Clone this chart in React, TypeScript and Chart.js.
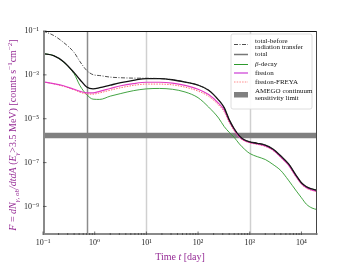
import React, { useEffect, useRef } from "react";
import { Chart, registerables } from "chart.js";
Chart.register(...registerables);

// ---- data (time in days, flux in counts s^-1 cm^-2) ----
const T_DAYS = [0.1, 0.16, 0.25, 0.4, 0.52, 0.7, 0.93, 1.25, 2, 3.2, 5.6, 10, 18, 32, 56, 100, 160, 250, 320, 400, 500, 630, 800, 1000, 1400, 2000, 2800, 4000, 5600, 8000, 10000, 12500, 16000, 20000];

const F_BEFORE = [1.0e-1, 6.3e-2, 3.0e-2, 1.05e-2, 4.0e-3, 1.6e-3, 1.02e-3, 9.3e-4, 7.9e-4, 7.4e-4, 7.1e-4, 7.0e-4, 6.8e-4, 6.0e-4, 4.7e-4, 3.4e-4, 2.0e-4, 7.1e-5, 3.2e-5, 9.1e-6, 3.5e-6, 1.66e-6, 1.07e-6, 8.9e-7, 7.6e-7, 6.3e-7, 4.2e-7, 2.0e-7, 8.9e-8, 2.5e-8, 1.2e-8, 7.9e-9, 6.3e-9, 5.4e-9];
const F_TOTAL = [9.3e-3, 7.6e-3, 4.0e-3, 1.26e-3, 6.0e-4, 2.8e-4, 2.3e-4, 2.6e-4, 3.4e-4, 4.4e-4, 5.6e-4, 6.8e-4, 6.8e-4, 6.0e-4, 4.7e-4, 3.4e-4, 2.0e-4, 7.1e-5, 3.2e-5, 9.1e-6, 3.5e-6, 1.66e-6, 1.07e-6, 8.9e-7, 7.6e-7, 6.3e-7, 4.2e-7, 2.0e-7, 8.9e-8, 2.5e-8, 1.2e-8, 7.9e-9, 6.3e-9, 5.4e-9];
const F_BETA = [9.3e-3, 7.6e-3, 3.8e-3, 1.12e-3, 3.2e-4, 1.26e-4, 7.8e-5, 7.6e-5, 1.07e-4, 1.41e-4, 1.9e-4, 2.3e-4, 2.4e-4, 2.2e-4, 1.66e-4, 9.1e-5, 3.4e-5, 1.07e-5, 4.4e-6, 2.4e-6, 1.41e-6, 7.1e-7, 4.0e-7, 2.6e-7, 1.86e-7, 1.38e-7, 8.3e-8, 4.3e-8, 1.58e-8, 5.0e-9, 2.5e-9, 1.26e-9, 8.5e-10, 7.2e-10];
const F_FISSION = [4.8e-4, 4.0e-4, 3.2e-4, 2.2e-4, 1.78e-4, 1.51e-4, 1.51e-4, 1.78e-4, 2.4e-4, 3.2e-4, 4.0e-4, 4.6e-4, 4.6e-4, 4.2e-4, 3.3e-4, 2.2e-4, 1.26e-4, 5.0e-5, 2.5e-5, 7.9e-6, 3.2e-6, 1.48e-6, 1.0e-6, 8.3e-7, 7.1e-7, 5.8e-7, 3.8e-7, 1.78e-7, 7.9e-8, 2.2e-8, 1.1e-8, 7.1e-9, 5.6e-9, 5.0e-9];
const F_FREYA = [4.8e-4, 3.9e-4, 3.0e-4, 2.1e-4, 1.62e-4, 1.35e-4, 1.32e-4, 1.51e-4, 2.0e-4, 2.6e-4, 3.3e-4, 3.8e-4, 3.8e-4, 3.5e-4, 2.75e-4, 1.82e-4, 1.05e-4, 4.2e-5, 2.1e-5, 6.9e-6, 2.8e-6, 1.38e-6, 9.5e-7, 7.9e-7, 6.8e-7, 5.5e-7, 3.6e-7, 1.7e-7, 7.6e-8, 2.1e-8, 1.05e-8, 6.8e-9, 5.4e-9, 4.8e-9];

const T_AMEGO = [0.1, 20000];
const F_AMEGO = [1.7e-6, 1.7e-6];

const V_LINES = [0.7, 10, 1000];
const X_MIN = 0.1;
const X_MAX = 20000;
const Y_MIN = 5e-11;
const Y_MAX = 0.1;
const X_MAJOR_EXP = [-1, 0, 1, 2, 3, 4];
const Y_MAJOR_EXP = [-1, -3, -5, -7, -9];
const MINOR_MULT = [2, 3, 4, 5, 6, 7, 8, 9];

const FONT = "'Liberation Serif', 'DejaVu Serif', serif";
const PURPLE = "#952a95";

const SUP: Record<string, string> = { "-": "\u207B", "0": "\u2070", "1": "\u00B9", "2": "\u00B2", "3": "\u00B3", "4": "\u2074", "5": "\u2075", "6": "\u2076", "7": "\u2077", "8": "\u2078", "9": "\u2079" };
const pow10Label = (e: number) => "10" + String(e).split("").map((c) => SUP[c]).join("");
const isPow10 = (v: number) => Math.abs(Math.log10(v) - Math.round(Math.log10(v))) < 1e-9;

const pts = (xs: number[], ys: number[]) => xs.map((x, i) => ({ x, y: ys[i] }));

type Seg = { t: string; it?: boolean; sub?: boolean; sup?: boolean };

function drawRich(ctx: CanvasRenderingContext2D, segs: Seg[], size: number, cx: number, baseY: number, color: string) {
  const fontFor = (s: Seg) => `${s.it ? "italic " : ""}${s.sub || s.sup ? size * 0.7 : size}px ${FONT}`;
  let w = 0;
  segs.forEach((s) => { ctx.font = fontFor(s); w += ctx.measureText(s.t).width; });
  let x = cx - w / 2;
  ctx.fillStyle = color;
  ctx.textBaseline = "alphabetic";
  ctx.textAlign = "left";
  segs.forEach((s) => {
    ctx.font = fontFor(s);
    const dy = s.sub ? size * 0.28 : s.sup ? -size * 0.4 : 0;
    ctx.fillText(s.t, x, baseY + dy);
    x += ctx.measureText(s.t).width;
  });
}

const Y_TITLE: Seg[] = [
  { t: "F", it: true }, { t: " = " }, { t: "dN", it: true }, { t: "\u03B3, ob", it: true, sub: true },
  { t: "/dtdA", it: true }, { t: " (" }, { t: "E", it: true }, { t: "\u03B3", it: true, sub: true },
  { t: ">3.5 MeV) [counts s" }, { t: "\u22121", sup: true }, { t: "cm" }, { t: "\u22122", sup: true }, { t: "]" },
];
const X_TITLE: Seg[] = [{ t: "Time " }, { t: "t", it: true }, { t: " [day]" }];

const decorPlugin = {
  id: "decor",
  beforeDatasetsDraw(chart: any) {
    const { ctx, chartArea: a, scales } = chart;
    const x = scales.x;
    ctx.save();
    V_LINES.forEach((t, i) => {
      const px = Math.round(x.getPixelForValue(t)) + 0.5;
      ctx.strokeStyle = i === 0 ? "#8c8c8c" : "#d0d0d0";
      ctx.lineWidth = 1.5;
      ctx.beginPath();
      ctx.moveTo(px, a.top);
      ctx.lineTo(px, a.bottom);
      ctx.stroke();
    });
    ctx.restore();
  },
  afterDatasetsDraw(chart: any) {
    const { ctx, chartArea: a, scales } = chart;
    const x = scales.x;
    const y = scales.y;
    ctx.save();
    // frame
    ctx.lineWidth = 1;
    ctx.strokeStyle = "#111";
    ctx.beginPath(); ctx.moveTo(a.left, a.top + 0.5); ctx.lineTo(a.right, a.top + 0.5); ctx.stroke();
    ctx.strokeStyle = "#444";
    ctx.beginPath(); ctx.moveTo(a.right - 0.5, a.top); ctx.lineTo(a.right - 0.5, a.bottom); ctx.stroke();
    ctx.strokeStyle = "#8a8a8a";
    ctx.lineWidth = 2;
    ctx.beginPath(); ctx.moveTo(a.left + 1, a.top); ctx.lineTo(a.left + 1, a.bottom); ctx.stroke();
    ctx.beginPath(); ctx.moveTo(a.left, a.bottom - 1); ctx.lineTo(a.right, a.bottom - 1); ctx.stroke();
    // ticks (inward)
    ctx.strokeStyle = "#333";
    ctx.lineWidth = 0.7;
    x.ticks.forEach((tk: any) => {
      const px = x.getPixelForValue(tk.value);
      const len = isPow10(tk.value) ? 3.5 : 2;
      ctx.beginPath(); ctx.moveTo(px, a.bottom); ctx.lineTo(px, a.bottom - len); ctx.stroke();
    });
    y.ticks.forEach((tk: any) => {
      const py = y.getPixelForValue(tk.value);
      ctx.beginPath(); ctx.moveTo(a.left, py); ctx.lineTo(a.left + 3.5, py); ctx.stroke();
    });
    // legend
    const lx = 231, ly = 34, lw = 81, lh = 75;
    ctx.fillStyle = "rgba(255,255,255,0.9)";
    ctx.strokeStyle = "#d6d6d6";
    ctx.lineWidth = 0.8;
    ctx.beginPath();
    (ctx as any).roundRect ? (ctx as any).roundRect(lx, ly, lw, lh, 2) : ctx.rect(lx, ly, lw, lh);
    ctx.fill();
    ctx.stroke();
    const sx0 = 234, sx1 = 248, tx = 255;
    const line = (yy: number, color: string, w: number, dash: number[]) => {
      ctx.save();
      ctx.strokeStyle = color; ctx.lineWidth = w; ctx.setLineDash(dash);
      ctx.beginPath(); ctx.moveTo(sx0, yy); ctx.lineTo(sx1, yy); ctx.stroke();
      ctx.restore();
    };
    const text = (s: string, yy: number, it = false) => {
      ctx.fillStyle = "#111";
      ctx.font = `${it ? "italic " : ""}7px ${FONT}`;
      ctx.textAlign = "left";
      ctx.textBaseline = "middle";
      ctx.fillText(s, tx, yy);
    };
    line(44.5, "#222", 0.8, [4, 1.5, 1, 1.5]);
    text("total-before", 41);
    text("radiation transfer", 47.5);
    line(54.5, "#777", 1.5, []);
    text("total", 54.5);
    line(64.5, "#2e9a2e", 1, []);
    ctx.fillStyle = "#111";
    ctx.font = `italic 7px ${FONT}`;
    ctx.textBaseline = "middle";
    ctx.fillText("\u03B2", tx, 64.5);
    const bw = ctx.measureText("\u03B2").width;
    ctx.font = `7px ${FONT}`;
    ctx.fillText("-decay", tx + bw, 64.5);
    line(73, "#e08ae6", 2, []);
    text("fission", 73);
    line(82, "#ff8a8a", 1, [1.5, 1.2]);
    text("fission-FREYA", 82);
    ctx.fillStyle = "#808080";
    ctx.fillRect(sx0, 92, sx1 - sx0, 5.5);
    text("AMEGO continuum", 91.5);
    text("sensitivity limit", 98.5);
    ctx.restore();
  },
  afterDraw(chart: any) {
    const { ctx } = chart;
    ctx.save();
    drawRich(ctx, X_TITLE, 10, 180, 260, PURPLE);
    ctx.translate(16, 135);
    ctx.rotate(-Math.PI / 2);
    drawRich(ctx, Y_TITLE, 10, 0, 0, PURPLE);
    ctx.restore();
  },
};

const xTickValues: number[] = [];
X_MAJOR_EXP.forEach((e) => {
  const base = Math.pow(10, e);
  xTickValues.push(base);
  MINOR_MULT.forEach((m) => { if (m * base <= X_MAX) xTickValues.push(m * base); });
});
const yTickValues = Y_MAJOR_EXP.map((e) => Math.pow(10, e));

export default function App() {
  const ref = useRef<HTMLCanvasElement | null>(null);
  useEffect(() => {
    if (!ref.current) return;
    const common = { pointRadius: 0, fill: false, cubicInterpolationMode: "monotone" as const };
    const chart = new Chart(ref.current, {
      type: "line",
      data: {
        datasets: [
          { ...common, label: "total-before radiation transfer", data: pts(T_DAYS, F_BEFORE), borderColor: "#222", borderWidth: 0.8, borderDash: [4, 1.5, 1, 1.5], order: 1 },
          { ...common, label: "total", data: pts(T_DAYS, F_TOTAL), borderColor: "#111", borderWidth: 1.3, order: 2 },
          { ...common, label: "fission", data: pts(T_DAYS, F_FISSION), borderColor: "#e23cc4", borderWidth: 1.2, order: 3 },
          { ...common, label: "fission-FREYA", data: pts(T_DAYS, F_FREYA), borderColor: "#ff6f6f", borderWidth: 1, borderDash: [1.5, 1.2], order: 4 },
          { ...common, label: "\u03B2-decay", data: pts(T_DAYS, F_BETA), borderColor: "#2e9a2e", borderWidth: 0.9, order: 5 },
          { ...common, label: "AMEGO continuum sensitivity limit", data: pts(T_AMEGO, F_AMEGO), borderColor: "#808080", borderWidth: 5.5, order: 10 },
        ],
      },
      options: {
        animation: false,
        responsive: false,
        devicePixelRatio: 1,
        layout: { padding: { top: 31, right: 35, left: 0, bottom: 0 } },
        plugins: { legend: { display: false }, tooltip: { enabled: false } },
        scales: {
          x: {
            type: "logarithmic",
            min: X_MIN,
            max: X_MAX,
            grid: { display: false, drawTicks: false },
            border: { display: false },
            afterBuildTicks: (s: any) => { s.ticks = xTickValues.map((v) => ({ value: v })); },
            afterFit: (s: any) => { s.height = 29; },
            ticks: {
              autoSkip: false,
              maxRotation: 0,
              padding: 3,
              color: "#222",
              font: { family: FONT, size: 8 },
              callback: (v: any) => (isPow10(Number(v)) ? pow10Label(Math.round(Math.log10(Number(v)))) : ""),
            },
          },
          y: {
            type: "logarithmic",
            min: Y_MIN,
            max: Y_MAX,
            grid: { display: false, drawTicks: false },
            border: { display: false },
            afterBuildTicks: (s: any) => { s.ticks = yTickValues.map((v) => ({ value: v })); },
            afterFit: (s: any) => { s.width = 43; },
            ticks: {
              autoSkip: false,
              padding: 4,
              color: "#222",
              font: { family: FONT, size: 8 },
              callback: (v: any) => pow10Label(Math.round(Math.log10(Number(v)))),
            },
          },
        },
      },
      plugins: [decorPlugin],
    } as any);
    return () => chart.destroy();
  }, []);
  return (
    <div style={{ position: "absolute", left: 0, top: 0, width: 352, height: 264, background: "#fff" }}>
      <canvas ref={ref} width={352} height={264} style={{ display: "block", width: 352, height: 264 }} />
    </div>
  );
}
